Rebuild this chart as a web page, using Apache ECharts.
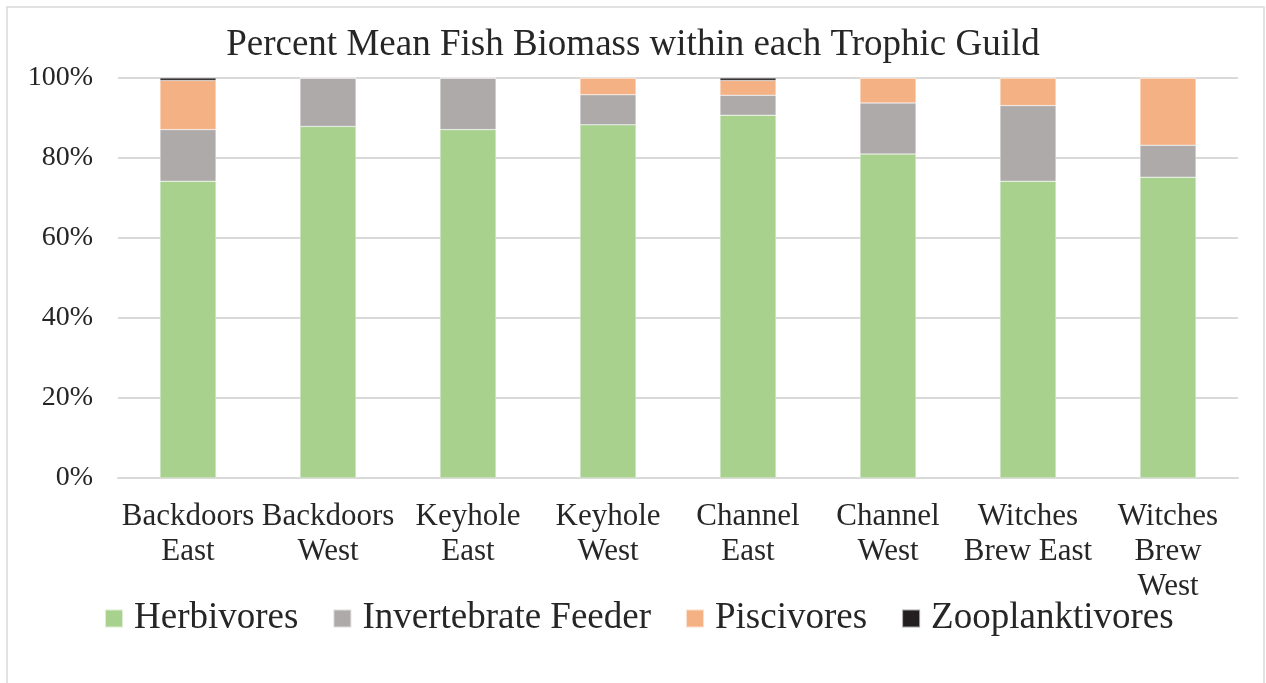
<!DOCTYPE html>
<html>
<head>
<meta charset="utf-8">
<script src="https://cdn.jsdelivr.net/npm/echarts@6/dist/echarts.min.js"></script>
<style>
html,body{margin:0;padding:0;background:#fff;}
#chart{width:1266px;height:683px;}
</style>
</head>
<body>
<div id="chart"></div>
<script>
const categories = ['Backdoors\nEast','Backdoors\nWest','Keyhole\nEast','Keyhole\nWest','Channel\nEast','Channel\nWest','Witches\nBrew East','Witches\nBrew\nWest'];
const herbivores = [74.2, 87.9, 87.1, 88.3, 90.7, 81.0, 74.2, 75.2];
const invertebrateFeeder = [12.9, 12.1, 12.9, 7.5, 5.0, 12.75, 18.9, 8.0];
const piscivores = [12.3, 0, 0, 4.2, 3.7, 6.25, 6.9, 16.8];
const zooplanktivores = [0.6, 0, 0, 0, 0.6, 0, 0, 0];
const yTicks = [0, 20, 40, 60, 80, 100];

const FONT = "'Liberation Serif','Times New Roman',serif";
const TXT = '#262626';

const chart = echarts.init(document.getElementById('chart'), null, {renderer:'canvas'});
function mk(name, data, color){
  return {name:name, type:'bar', stack:'total', data:data, barWidth:56,
    itemStyle:{color:color, borderColor:'rgba(255,255,255,0.6)', borderWidth:0.5},
    emphasis:{disabled:true}};
}
chart.setOption({
  animation:false,
  backgroundColor:'#ffffff',
  graphic:[{type:'rect', shape:{x:7, y:7, width:1257, height:700}, style:{fill:'none', stroke:'#d9d9d9', lineWidth:1.5}, silent:true}],
  title:{text:'Percent Mean Fish Biomass within each Trophic Guild', left:'center', top:27, padding:0,
    textStyle:{fontFamily:FONT, fontSize:37, fontWeight:'normal', color:TXT}},
  grid:{left:118, right:28, top:78, bottom:205, containLabel:false},
  legend:{left:104, top:600, padding:0, itemWidth:18, itemHeight:18, itemGap:34, icon:'rect',
    textStyle:{fontFamily:FONT, fontSize:37, color:TXT, lineHeight:37, padding:[0,0,0,6]},
    data:['Herbivores','Invertebrate Feeder','Piscivores','Zooplanktivores']},
  xAxis:{type:'category', data:categories,
    axisLine:{show:true, lineStyle:{color:'#d9d9d9', width:2}},
    axisTick:{show:false},
    axisLabel:{fontFamily:FONT, fontSize:31, color:TXT, lineHeight:35, margin:21, interval:0}},
  yAxis:{type:'value', min:yTicks[0], max:yTicks[yTicks.length-1], interval:20,
    axisLine:{show:false}, axisTick:{show:false},
    splitLine:{lineStyle:{color:'#d9d9d9', width:2}},
    axisLabel:{fontFamily:FONT, fontSize:28, color:TXT, margin:25, formatter:'{value}%'}},
  series:[
    mk('Herbivores', herbivores, '#a9d18e'),
    mk('Invertebrate Feeder', invertebrateFeeder, '#aeaaaa'),
    mk('Piscivores', piscivores, '#f4b183'),
    mk('Zooplanktivores', zooplanktivores, '#231f20')
  ]
});
</script>
</body>
</html>
